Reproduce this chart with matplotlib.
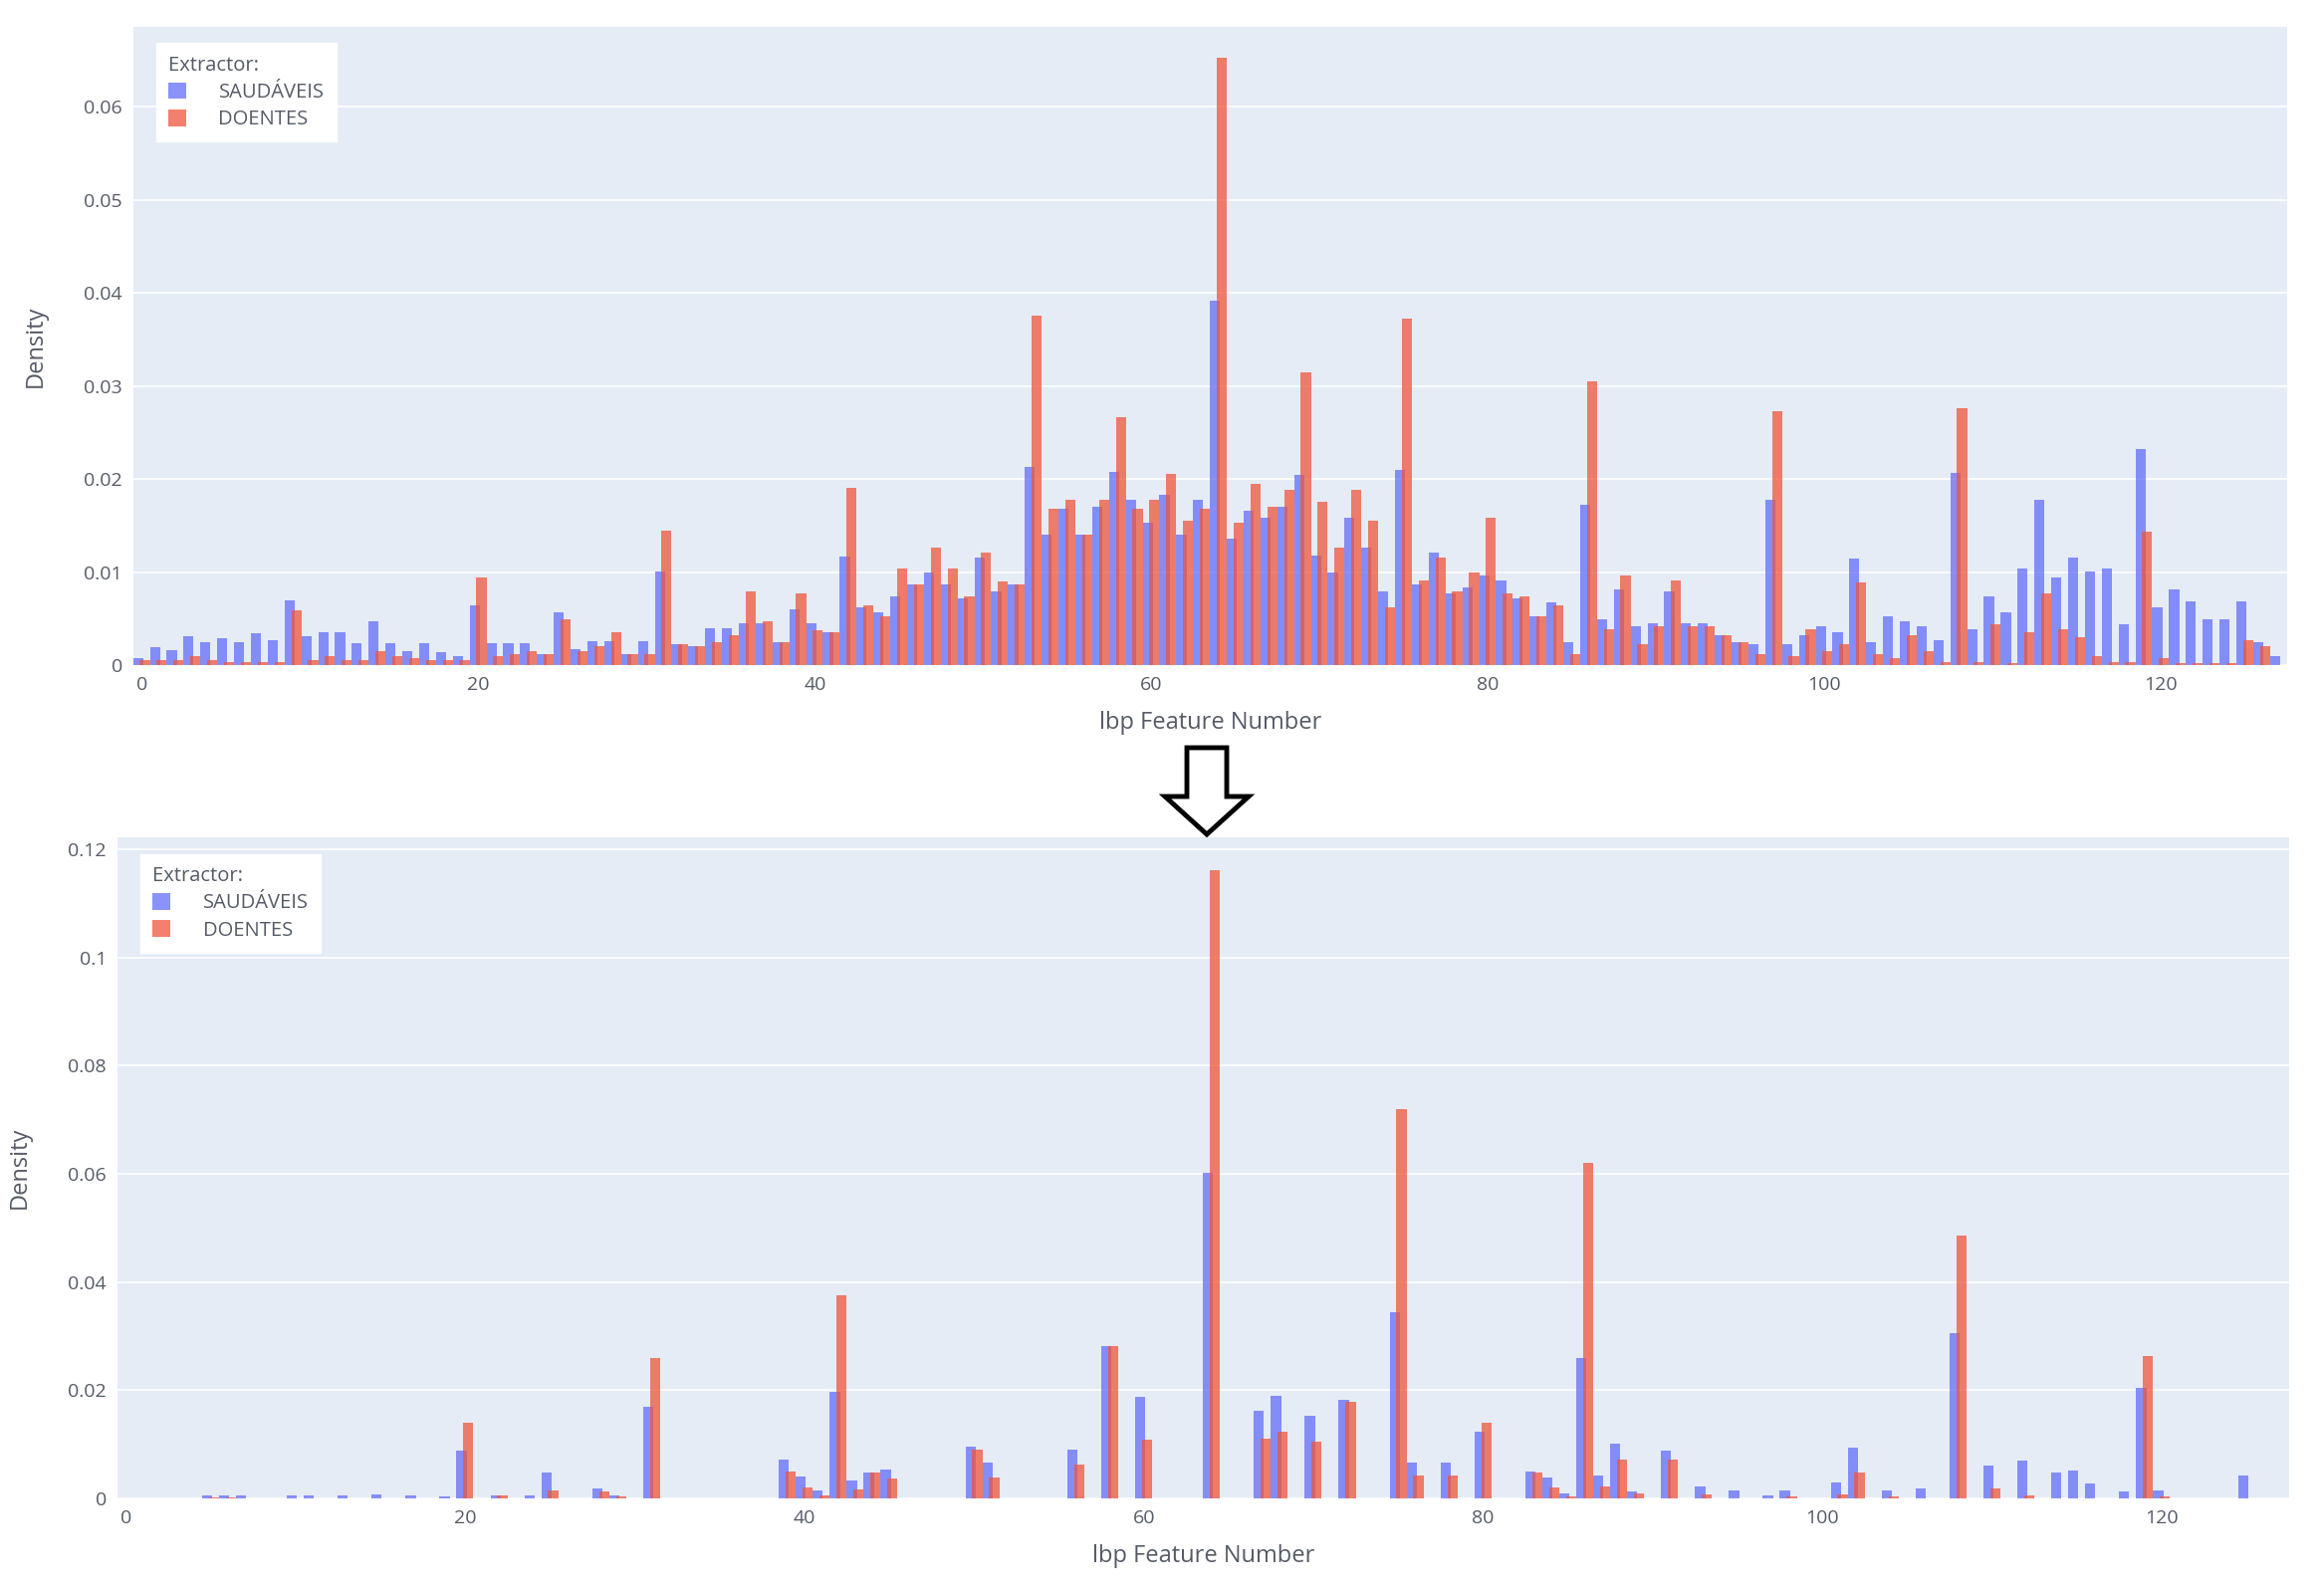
"""Two stacked LBP feature density histograms (before / after)."""

import matplotlib

matplotlib.use("Agg")
from matplotlib import pyplot as plt
from matplotlib.patches import Polygon
import numpy as np

# * -------------------------------------------------------------------------------- * #
# * DATA

features = list(range(128))

top_saudaveis = [
    0.0007, 0.0019, 0.0016, 0.0031, 0.0025, 0.0029, 0.0025, 0.0034, 0.0027, 0.0070,
    0.0031, 0.0035, 0.0035, 0.0024, 0.0047, 0.0024, 0.0015, 0.0024, 0.0014, 0.0010,
    0.0064, 0.0024, 0.0024, 0.0024, 0.0012, 0.0057, 0.0017, 0.0026, 0.0026, 0.0012,
    0.0026, 0.0101, 0.0022, 0.0020, 0.0040, 0.0040, 0.0045, 0.0045, 0.0025, 0.0060,
    0.0045, 0.0035, 0.0117, 0.0062, 0.0057, 0.0074, 0.0087, 0.0099, 0.0087, 0.0072,
    0.0116, 0.0079, 0.0087, 0.0213, 0.0140, 0.0168, 0.0140, 0.0170, 0.0208, 0.0178,
    0.0153, 0.0183, 0.0140, 0.0178, 0.0392, 0.0136, 0.0166, 0.0158, 0.0170, 0.0204,
    0.0118, 0.0099, 0.0158, 0.0126, 0.0079, 0.0210, 0.0087, 0.0121, 0.0077, 0.0084,
    0.0096, 0.0091, 0.0072, 0.0052, 0.0067, 0.0025, 0.0172, 0.0049, 0.0081, 0.0042,
    0.0045, 0.0079, 0.0045, 0.0045, 0.0032, 0.0025, 0.0022, 0.0178, 0.0022, 0.0032,
    0.0042, 0.0035, 0.0114, 0.0025, 0.0052, 0.0047, 0.0042, 0.0027, 0.0207, 0.0039,
    0.0074, 0.0057, 0.0104, 0.0178, 0.0094, 0.0116, 0.0101, 0.0104, 0.0044, 0.0232,
    0.0062, 0.0081, 0.0069, 0.0049, 0.0049, 0.0069, 0.0025, 0.0010,
]
top_doentes = [
    0.0005, 0.0005, 0.0005, 0.0010, 0.0005, 0.0003, 0.0003, 0.0003, 0.0003, 0.0059,
    0.0005, 0.0010, 0.0005, 0.0005, 0.0015, 0.0010, 0.0008, 0.0005, 0.0005, 0.0005,
    0.0094, 0.0010, 0.0012, 0.0015, 0.0012, 0.0049, 0.0015, 0.0020, 0.0035, 0.0012,
    0.0012, 0.0144, 0.0022, 0.0020, 0.0025, 0.0032, 0.0079, 0.0047, 0.0025, 0.0077,
    0.0037, 0.0035, 0.0190, 0.0064, 0.0052, 0.0104, 0.0087, 0.0126, 0.0104, 0.0074,
    0.0121, 0.0090, 0.0087, 0.0376, 0.0168, 0.0178, 0.0140, 0.0178, 0.0267, 0.0168,
    0.0178, 0.0205, 0.0155, 0.0168, 0.0653, 0.0153, 0.0195, 0.0170, 0.0188, 0.0315,
    0.0175, 0.0126, 0.0188, 0.0155, 0.0062, 0.0372, 0.0091, 0.0116, 0.0079, 0.0099,
    0.0158, 0.0077, 0.0074, 0.0052, 0.0064, 0.0012, 0.0305, 0.0039, 0.0096, 0.0022,
    0.0042, 0.0091, 0.0042, 0.0042, 0.0032, 0.0025, 0.0012, 0.0273, 0.0010, 0.0039,
    0.0015, 0.0022, 0.0089, 0.0012, 0.0007, 0.0032, 0.0015, 0.0003, 0.0276, 0.0003,
    0.0044, 0.0002, 0.0035, 0.0077, 0.0039, 0.0030, 0.0010, 0.0003, 0.0003, 0.0143,
    0.0007, 0.0002, 0.0002, 0.0002, 0.0002, 0.0027, 0.0020, 0.0000,
]

# Bottom panel is sparse: feature index -> density
bottom_idx_saudaveis = [
    5, 6, 7, 10, 11, 13, 15, 17, 19, 20, 22, 24, 25, 28, 29, 31, 39, 40, 41, 42,
    43, 44, 45, 50, 51, 56, 58, 60, 64, 67, 68, 70, 72, 75, 76, 78, 80, 83, 84, 85,
    86, 87, 88, 89, 91, 93, 95, 97, 98, 101, 102, 104, 106, 108, 110, 112, 114, 115,
    116, 118, 119, 120, 125,
]
bottom_saudaveis = [
    0.0005, 0.0006, 0.0005, 0.0005, 0.0005, 0.0006, 0.0007, 0.0006, 0.0003, 0.0088,
    0.0005, 0.0005, 0.0048, 0.0018, 0.0005, 0.0170, 0.0072, 0.0041, 0.0014, 0.0196,
    0.0034, 0.0048, 0.0054, 0.0095, 0.0066, 0.0090, 0.0282, 0.0187, 0.0602, 0.0162,
    0.0189, 0.0153, 0.0183, 0.0345, 0.0066, 0.0066, 0.0124, 0.0050, 0.0039, 0.0009,
    0.0260, 0.0043, 0.0102, 0.0012, 0.0088, 0.0023, 0.0014, 0.0005, 0.0014, 0.0030,
    0.0093, 0.0014, 0.0018, 0.0305, 0.0061, 0.0070, 0.0048, 0.0052, 0.0027, 0.0012,
    0.0205, 0.0014, 0.0043,
]
bottom_idx_doentes = [
    5, 6, 20, 22, 25, 28, 29, 31, 39, 40, 41, 42, 43, 44, 45, 50, 51, 56, 58, 60,
    64, 67, 68, 70, 72, 75, 76, 78, 80, 83, 84, 85, 86, 87, 88, 89, 91, 93, 98, 101,
    102, 104, 108, 110, 112, 119, 120,
]
bottom_doentes = [
    0.0002, 0.0002, 0.0140, 0.0005, 0.0015, 0.0012, 0.0003, 0.0260, 0.0050, 0.0021,
    0.0005, 0.0375, 0.0016, 0.0048, 0.0036, 0.0090, 0.0039, 0.0063, 0.0282, 0.0108,
    0.1162, 0.0111, 0.0124, 0.0105, 0.0178, 0.0720, 0.0043, 0.0043, 0.0140, 0.0048,
    0.0021, 0.0003, 0.0620, 0.0023, 0.0072, 0.0010, 0.0072, 0.0007, 0.0003, 0.0007,
    0.0048, 0.0003, 0.0485, 0.0018, 0.0005, 0.0264, 0.0003,
]

top_yticks = [0, 0.01, 0.02, 0.03, 0.04, 0.05, 0.06]
top_yticklabels = ["0", "0.01", "0.02", "0.03", "0.04", "0.05", "0.06"]
bottom_yticks = [0, 0.02, 0.04, 0.06, 0.08, 0.10, 0.12]
bottom_yticklabels = ["0", "0.02", "0.04", "0.06", "0.08", "0.1", "0.12"]
xticks = [0, 20, 40, 60, 80, 100, 120]

# * -------------------------------------------------------------------------------- * #
# * STYLE

BLUE = "#636EFA"
RED = "#EF553B"
BG = "#E5ECF6"
TEXT = "#555b66"

plt.rcParams["font.family"] = ["Open Sans", "DejaVu Sans"]

W, H = 2334, 1598
fig = plt.figure(figsize=(W / 100, H / 100), dpi=100)


def px_axes(left, top, right, bottom):
    """Axes from pixel box (top-left origin)."""
    return fig.add_axes(
        [left / W, 1 - bottom / H, (right - left) / W, (bottom - top) / H]
    )


def style_axes(ax, ymax, yticks, yticklabels):
    ax.set_facecolor(BG)
    ax.set_xlim(-0.5, 127.5)
    ax.set_ylim(0, ymax)
    ax.set_xticks(xticks)
    ax.set_xticklabels([str(t) for t in xticks])
    ax.set_yticks(yticks)
    ax.set_yticklabels(yticklabels)
    ax.tick_params(length=0, labelsize=14, colors=TEXT, pad=8)
    ax.grid(True, axis="y", color="white", linewidth=1.2)
    ax.set_axisbelow(True)
    for spine in ax.spines.values():
        spine.set_visible(False)
    ax.set_xlabel("lbp Feature Number", fontsize=17, color=TEXT, labelpad=12)
    ax.set_ylabel("Density", fontsize=17, color=TEXT, labelpad=26)
    leg = ax.legend(
        title="Extractor:",
        loc="upper left",
        bbox_to_anchor=(0.006, 0.99),
        alignment="left",
        fontsize=14.5,
        title_fontsize=14.5,
        frameon=True,
        fancybox=False,
        handlelength=0.9,
        handleheight=0.9,
        handletextpad=1.6,
        borderpad=0.6,
        labelspacing=0.35,
    )
    leg.get_frame().set_facecolor("white")
    leg.get_frame().set_edgecolor("white")
    leg.get_frame().set_alpha(1)
    leg.get_title().set_color(TEXT)
    for txt in leg.get_texts():
        txt.set_color(TEXT)


def draw_pair(ax, x_b, y_b, x_r, y_r):
    ax.bar(np.array(x_b) - 0.22, y_b, width=0.6, color=BLUE, alpha=0.75,
           label="SAUDÁVEIS", linewidth=0)
    ax.bar(np.array(x_r) + 0.18, y_r, width=0.6, color=RED, alpha=0.75,
           label="DOENTES", linewidth=0)


# * -------------------------------------------------------------------------------- * #
# * PANELS

ax_top = px_axes(134, 27, 2297, 668)
draw_pair(ax_top, features, top_saudaveis, features, top_doentes)
style_axes(ax_top, 0.0686, top_yticks, top_yticklabels)

ax_bot = px_axes(118, 841, 2299, 1505)
draw_pair(ax_bot, bottom_idx_saudaveis, bottom_saudaveis,
          bottom_idx_doentes, bottom_doentes)
style_axes(ax_bot, 0.1222, bottom_yticks, bottom_yticklabels)

# Hollow down arrow between panels
cx, top_y, head_y, tip_y = 1212, 751, 800, 838
shaft, head = 20, 42
arrow_px = [
    (cx - shaft, top_y), (cx + shaft, top_y), (cx + shaft, head_y),
    (cx + head, head_y), (cx, tip_y), (cx - head, head_y), (cx - shaft, head_y),
]
arrow = Polygon(
    [(x / W, 1 - y / H) for x, y in arrow_px],
    closed=True, transform=fig.transFigure, facecolor="white",
    edgecolor="black", linewidth=3.5, joinstyle="miter",
)
fig.patches.append(arrow)

fig.savefig("out.png", dpi=100, facecolor="white")
